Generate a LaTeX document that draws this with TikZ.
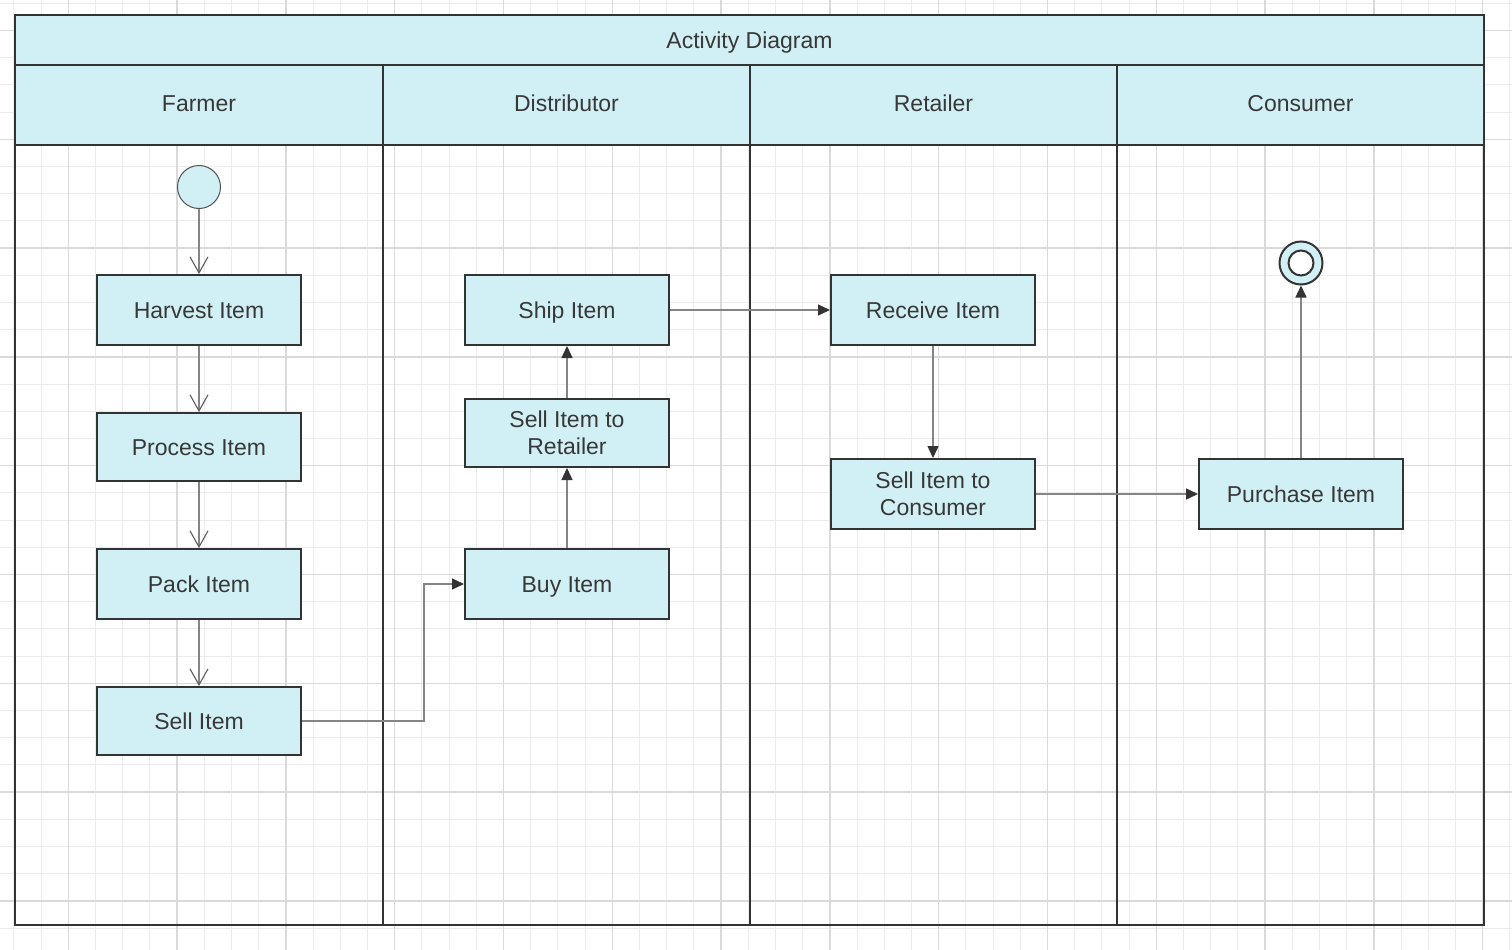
\documentclass[tikz,border=0pt]{standalone}
\usepackage{fontspec}
\setmainfont{Liberation Sans}
\usetikzlibrary{arrows.meta}
\definecolor{cyanfill}{HTML}{D1F0F5}
\definecolor{edgec}{HTML}{333333}
\definecolor{conn}{HTML}{858585}
\definecolor{txt}{HTML}{383838}
\definecolor{gminor}{HTML}{ECECEC}
\definecolor{gmajor}{HTML}{DADADA}
\begin{document}
\begin{tikzpicture}[x=1pt,y=-1pt,
  every node/.style={font=\fontsize{23}{27}\selectfont, text=txt},
  actbox/.style={draw=edgec, line width=2pt, fill=cyanfill, minimum width=204pt, minimum height=70pt, inner sep=0pt},
  onel/.style={text height=16.5pt, text depth=0pt},
  twol/.style={align=center},
  lbl/.style={inner sep=0pt, text height=16.5pt, text depth=0pt},
  flow/.style={draw=conn, line width=1.4pt, -{Triangle[length=12pt,width=11pt,color=edgec,fill=edgec]}},
  vflow/.style={draw=conn, line width=1.4pt, -{Straight Barb[length=16pt,width=18pt,color=edgec!80,line width=1.1pt]}},
  lane/.style={draw=edgec, line width=2pt}
]
\useasboundingbox (0,0) rectangle (1512,950);
\fill[white] (0,0) rectangle (1512,950);
% grid
\foreach \i in {0,...,55} {\draw[gminor,line width=1pt] ({13.9+27.2*\i},0) -- ({13.9+27.2*\i},950);}
\foreach \j in {0,...,34} {\draw[gminor,line width=1pt] (0,{3.3+27.2*\j}) -- (1512,{3.3+27.2*\j});}
\foreach \k in {0,...,13} {\draw[gmajor,line width=1.3pt] ({68.3+108.8*\k},0) -- ({68.3+108.8*\k},950);}
\foreach \k in {0,...,8} {\draw[gmajor,line width=1.3pt] (0,{30.5+108.8*\k}) -- (1512,{30.5+108.8*\k});}
% pool header fills
\fill[cyanfill] (15,15) rectangle (1484,145);
% pool lines
\draw[lane] (15,15) rectangle (1484,925);
\draw[lane] (15,65) -- (1484,65);
\draw[lane] (15,145) -- (1484,145);
\draw[lane] (383,65) -- (383,925);
\draw[lane] (750,65) -- (750,925);
\draw[lane] (1117,65) -- (1117,925);
% titles
\node[lbl] (title) at (749.5,40) {Activity Diagram};
\node[lbl] (hfarmer) at (199,103) {Farmer};
\node[lbl] (hdist) at (566.5,103) {Distributor};
\node[lbl] (hret) at (933.5,103) {Retailer};
\node[lbl] (hcons) at (1300.5,103) {Consumer};
% start / end
\node[circle, draw=edgec!85, line width=1pt, fill=cyanfill, minimum size=43pt, inner sep=0pt] (start) at (199,187) {};
\node[circle, draw=edgec, line width=2pt, fill=cyanfill, minimum size=43pt, inner sep=0pt] (final) at (1301,263) {};
\node[circle, draw=edgec, line width=2pt, fill=white, minimum size=25pt, inner sep=0pt] (finalin) at (final.center) {};
% activities
\node[actbox, onel] (harvest) at (199,310) {Harvest Item};
\node[actbox, onel, minimum height=68pt] (process) at (199,447) {Process Item};
\node[actbox, onel] (pack) at (199,584) {Pack Item};
\node[actbox, onel, minimum height=68pt] (sell) at (199,721) {Sell Item};
\node[actbox, onel] (ship) at (567,310) {Ship Item};
\node[actbox, twol, minimum height=68pt] (sellr) at (567,433) {Sell Item to\\Retailer};
\node[actbox, onel] (buy) at (567,584) {Buy Item};
\node[actbox, onel] (receive) at (933,310) {Receive Item};
\node[actbox, twol] (sellc) at (933,494) {Sell Item to\\Consumer};
\node[actbox, onel] (purchase) at (1301,494) {Purchase Item};
% connectors
\draw[vflow] (start.south) -- (harvest.north);
\draw[vflow] (harvest.south) -- (process.north);
\draw[vflow] (process.south) -- (pack.north);
\draw[vflow] (pack.south) -- (sell.north);
\draw[flow] (sell.east) -- ++(122,0) |- (buy.west);
\draw[flow] (buy.north) -- (sellr.south);
\draw[flow] (sellr.north) -- (ship.south);
\draw[flow] (ship.east) -- (receive.west);
\draw[flow] (receive.south) -- (sellc.north);
\draw[flow] (sellc.east) -- (purchase.west);
\draw[flow] (purchase.north) -- (final.south);
\end{tikzpicture}
\end{document}
